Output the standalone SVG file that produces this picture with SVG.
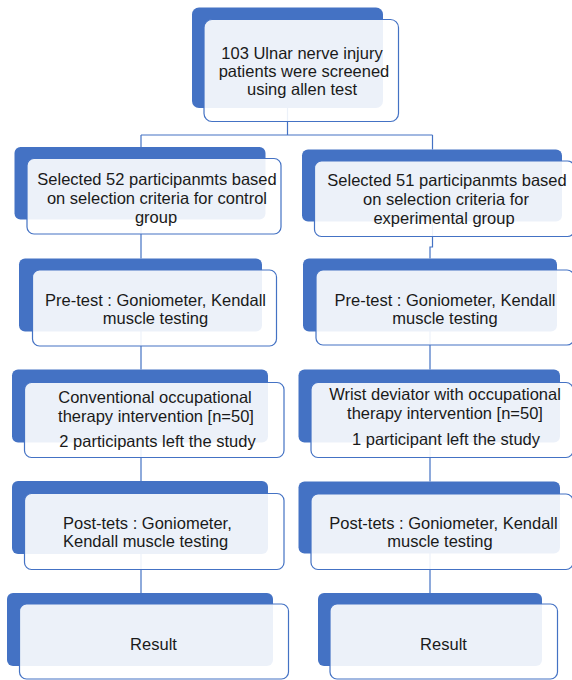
<svg xmlns="http://www.w3.org/2000/svg" width="572" height="680" viewBox="0 0 572 680">
<style>
.bk{fill:#4472C4;}
.fr{fill:#ffffff;fill-opacity:0.9;stroke:#4472C4;stroke-width:1.2;}
.cn{fill:none;stroke:#4472C4;stroke-width:1.2;}
text{font-family:"Liberation Sans",Arial,sans-serif;font-size:16.5px;fill:#1a1a1a;text-anchor:middle;}
.l{text-anchor:start;}
</style>
<rect width="572" height="680" fill="#ffffff"/>
<g id="connectors">
<path class="cn" d="M287.5,108 V135 M141,135 H432.5 M141,135 V147 M432.5,135 V149.5"/>
<path class="cn" d="M141,219 V258.5 M432.5,221 V247 H430 V258.5"/>
<path class="cn" d="M141,331 V369.5 M430,331 V369.5"/>
<path class="cn" d="M141,442 V481 M430,442 V481.5"/>
<path class="cn" d="M141,554 V593 M430,553 V593"/>
</g>
<g id="n1">
<rect class="bk" x="192" y="7.5" width="191" height="100.5" rx="7"/>
<rect class="fr" x="204" y="19.5" width="194.5" height="102" rx="8"/>
<text x="302" y="59">103 Ulnar nerve injury</text>
<text x="304" y="77">patients were screened</text>
<text x="302" y="95">using allen test</text>
</g>
<g id="n2l">
<rect class="bk" x="14.5" y="147" width="251" height="72.5" rx="6"/>
<rect class="fr" x="27" y="158.5" width="254" height="75.5" rx="7"/>
<text x="157" y="185">Selected 52 participanmts based</text>
<text x="157" y="204">on selection criteria for control</text>
<text x="156" y="223">group</text>
</g>
<g id="n2r">
<rect class="bk" x="302" y="149.5" width="260" height="72" rx="6"/>
<rect class="fr" x="314.5" y="161" width="260" height="75.5" rx="7"/>
<text x="447" y="186">Selected 51 participanmts based</text>
<text x="446" y="205">on selection criteria for</text>
<text x="444" y="224">experimental group</text>
</g>
<g id="n3l">
<rect class="bk" x="19" y="258.5" width="243" height="73" rx="6"/>
<rect class="fr" x="32.5" y="270" width="244" height="76" rx="7"/>
<text x="155.5" y="306">Pre-test : Goniometer, Kendall</text>
<text x="155.5" y="324">muscle testing</text>
</g>
<g id="n3r">
<rect class="bk" x="303" y="258.5" width="254" height="73" rx="6"/>
<rect class="fr" x="316" y="270" width="258" height="75" rx="7"/>
<text x="445" y="306">Pre-test : Goniometer, Kendall</text>
<text x="445" y="324">muscle testing</text>
</g>
<g id="n4l">
<rect class="bk" x="12" y="369.5" width="256" height="73" rx="6"/>
<rect class="fr" x="24.5" y="382.5" width="259.5" height="75" rx="7"/>
<text x="155" y="403">Conventional occupational</text>
<text x="156" y="421.5">therapy intervention [n=50]</text>
<text x="157.5" y="447">2 participants left the study</text>
</g>
<g id="n4r">
<rect class="bk" x="298.5" y="369.5" width="261.5" height="73" rx="6"/>
<rect class="fr" x="311" y="382.5" width="262" height="75" rx="7"/>
<text x="445" y="400">Wrist deviator with occupational</text>
<text x="445" y="419">therapy intervention [n=50]</text>
<text x="446" y="445">1 participant left the study</text>
</g>
<g id="n5l">
<rect class="bk" x="12" y="481" width="256" height="73" rx="6"/>
<rect class="fr" x="24.5" y="493.5" width="259.5" height="76" rx="7"/>
<text class="l" x="63" y="529">Post-tets : Goniometer,</text>
<text class="l" x="63" y="547">Kendall muscle testing</text>
</g>
<g id="n5r">
<rect class="bk" x="298.5" y="481.5" width="261.5" height="72" rx="6"/>
<rect class="fr" x="311" y="494" width="262" height="75.5" rx="7"/>
<text x="443.5" y="529">Post-tets : Goniometer, Kendall</text>
<text x="440" y="547">muscle testing</text>
</g>
<g id="n6l">
<rect class="bk" x="7" y="593" width="266" height="73" rx="6"/>
<rect class="fr" x="19.5" y="604" width="269" height="75" rx="7"/>
<text x="153.5" y="650">Result</text>
</g>
<g id="n6r">
<rect class="bk" x="318" y="593" width="224" height="73" rx="6"/>
<rect class="fr" x="330" y="604" width="227.5" height="75" rx="7"/>
<text x="443.5" y="650">Result</text>
</g>
</svg>
